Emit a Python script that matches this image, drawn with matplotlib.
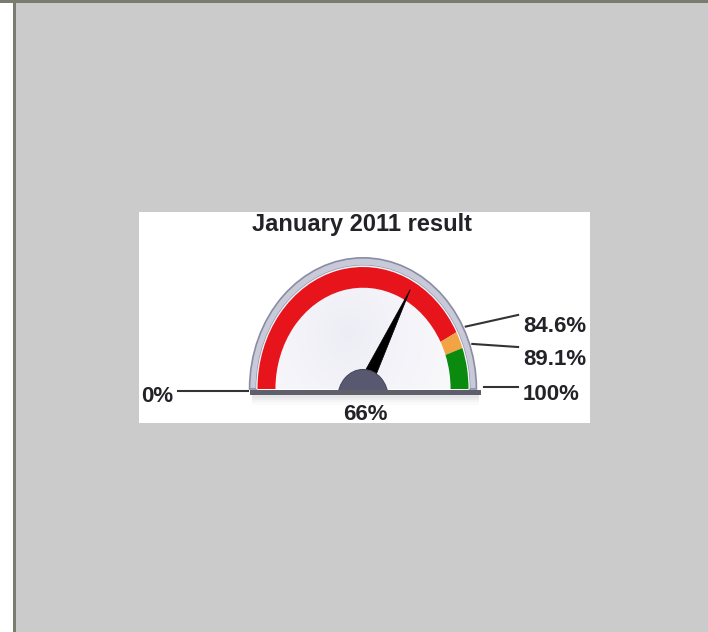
import numpy as np
import matplotlib.pyplot as plt
from matplotlib.patches import Wedge, Rectangle, Polygon, Circle

# gauge data
title = "January 2011 result"
value = 66
range_min, range_max = 0, 100
thresholds = [84.6, 89.1]
band_colors = ["#e8141c", "#f2a444", "#0b8a10"]
scale_values = [0, 84.6, 89.1, 100]
scale_labels = ["0%", "84.6%", "89.1%", "100%"]
value_label = "66%"

# leader line ends / label baselines (layout only)
line_end_y = [-0.02, 0.607, 0.344, 0.016]
label_base_y = [-0.105, 0.467, 0.197, -0.09]

plt.rcParams['font.family'] = ['Liberation Sans', 'DejaVu Sans']
TXT = "#222228"
W, H = 708, 632


def to_angle(v):
    return 180.0 * (1 - (v - range_min) / (range_max - range_min))


fig = plt.figure(figsize=(7.08, 6.32), dpi=100, facecolor="white")

# page background, pixel units from the top-left corner
bg = fig.add_axes([0, 0, 1, 1], zorder=0)
bg.set_xlim(0, W)
bg.set_ylim(H, 0)
bg.axis("off")
bg.add_patch(Rectangle((16, 3), W - 16, H - 3, fc="#cbcbcb", ec="none"))
bg.add_patch(Rectangle((13, 0), 3, H, fc="#7b7b70", ec="none"))
bg.add_patch(Rectangle((0, 0), W, 3, fc="#7b7b70", ec="none"))
bg.add_patch(Rectangle((139, 212), 451, 211, fc="white", ec="none"))

# gauge axes: one unit = band outer radius (stretched vertically like the original)
cx, cy, rx, ry = 363, 389, 105.5, 122
gx = fig.add_axes([139 / W, (H - 423) / H, 451 / W, 211 / H], zorder=1)
gx.set_xlim((139 - cx) / rx, (590 - cx) / rx)
gx.set_ylim((cy - 423) / ry, (cy - 212) / ry)
gx.axis("off")

# shadow under the base
for i, a in enumerate([0.18, 0.12, 0.07, 0.03]):
    gx.add_patch(Rectangle((-1.05, -0.05 - 0.02 * (i + 1)), 2.15, 0.02,
                           color="#707080", alpha=a, lw=0))

# rim
gx.add_patch(Wedge((0, 0), 1.075, 0, 180, width=0.065, fc="#c8cad9",
                   ec="#8a8da2", lw=1.2, zorder=2))

# face with soft radial gradient
face = Wedge((0, 0), 1.012, 0, 180, fc="white", ec="none", zorder=3)
gx.add_patch(face)
xx, yy = np.meshgrid(np.linspace(-1.1, 1.1, 200), np.linspace(0, 1.1, 100))
rr = np.hypot(xx + 0.15, yy - 0.45)
img = gx.imshow(-rr, extent=[-1.1, 1.1, 0, 1.1], origin="lower", cmap="Purples",
                vmin=-2, vmax=2, aspect="auto", zorder=3, alpha=0.18)
img.set_clip_path(face)

# colour bands
edges = [range_min] + thresholds + [range_max]
for i, col in enumerate(band_colors):
    gx.add_patch(Wedge((0, 0), 1.0, to_angle(edges[i + 1]), to_angle(edges[i]),
                       width=0.17, fc=col, ec="none", zorder=4))

# base bar
gx.add_patch(Rectangle((-1.075, -0.05), 2.19, 0.045, fc="#5f5f6c", ec="none", zorder=5))

# needle
th = np.deg2rad(to_angle(value))
tip = 0.93
w = 0.06
needle = Polygon([(tip * np.cos(th), tip * np.sin(th)),
                  (0.05 * np.cos(th) - w * np.sin(th), 0.05 * np.sin(th) + w * np.cos(th)),
                  (0.05 * np.cos(th) + w * np.sin(th), 0.05 * np.sin(th) - w * np.cos(th))],
                 closed=True, fc="black", ec="black", lw=0.5, zorder=6)
gx.add_patch(needle)

# knob
knob = Circle((0, -0.08), 0.24, fc="#585870", ec="#4a4a5e", lw=0.8, zorder=7)
gx.add_patch(knob)
knob.set_clip_path(Rectangle((-2, -0.01), 4, 2, transform=gx.transData))

# scale labels with leader lines
for v, lab, ey, by in zip(scale_values, scale_labels, line_end_y, label_base_y):
    a = np.deg2rad(to_angle(v))
    if v == range_min:
        gx.plot([-1.09, -1.755], [ey, ey], color="#333333", lw=1.5, zorder=1)
        gx.text(-1.8, by, lab, ha="right", va="baseline", fontsize=16,
                fontweight="bold", color=TXT)
    else:
        r0 = 1.1 if v != range_max else 1.145
        gx.plot([r0 * np.cos(a), 1.47], [r0 * np.sin(a) if v != range_max else ey, ey],
                color="#333333", lw=1.5, zorder=1)
        gx.text(1.515, by, lab, ha="left", va="baseline", fontsize=16,
                fontweight="bold", color=TXT)

gx.text(0.02, -0.254, value_label, ha="center", va="baseline", fontsize=16,
        fontweight="bold", color=TXT)
gx.text(-0.014, 1.295, title, ha="center", va="baseline", fontsize=17,
        fontweight="bold", color=TXT)

fig.savefig("out.png", dpi=100, facecolor=fig.get_facecolor())
